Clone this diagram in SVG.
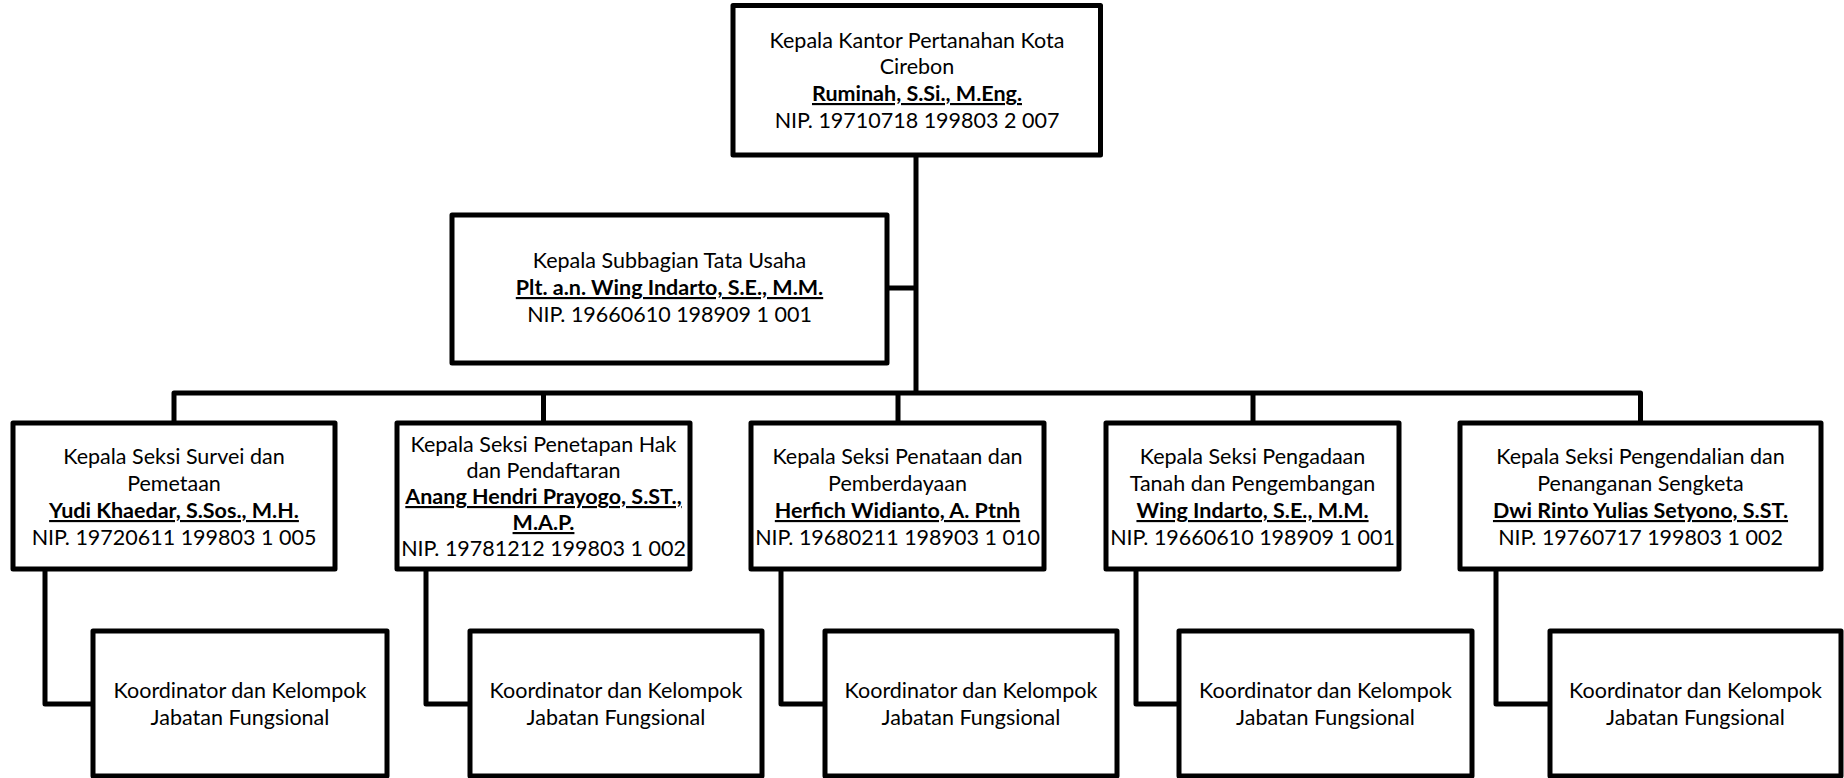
<svg xmlns="http://www.w3.org/2000/svg" width="1844" height="778" viewBox="0 0 1844 778">
<style>
.box{fill:#fff;stroke:#000;stroke-width:5;stroke-linejoin:round}
.con{fill:none;stroke:#000;stroke-width:5;stroke-linejoin:round}
text{font-family:Lato,"Open Sans","Liberation Sans",sans-serif;font-size:21.5px;fill:#000;text-anchor:middle}
.b{font-weight:bold;text-decoration:underline}
</style>
<rect width="1844" height="778" fill="#fff"/>
<g id="connectors">
<path class="con" d="M916 155V393M174 423V393H1640.5V423M543.5 393V423M898 393V423M1253 393V423M887 288H916"/>
<path class="con" d="M45 569V704H93M426 569V704H470M781 569V704H825M1136 569V704H1179M1496 569V704H1550"/>
</g>
<g id="kepala-kantor">
<rect class="box" x="733" y="5.5" width="367.5" height="149.5"/>
<text x="917" y="48">Kepala Kantor Pertanahan Kota</text>
<text x="917" y="74">Cirebon</text>
<text x="917" y="101" class="b">Ruminah, S.Si., M.Eng.</text>
<text x="917" y="128">NIP. 19710718 199803 2 007</text>
</g>
<g id="subbagian-tu">
<rect class="box" x="452" y="215" width="435" height="148"/>
<text x="669.5" y="268">Kepala Subbagian Tata Usaha</text>
<text x="669.5" y="295" class="b">Plt. a.n. Wing Indarto, S.E., M.M.</text>
<text x="669.5" y="322">NIP. 19660610 198909 1 001</text>
</g>
<g id="seksi-survei">
<rect class="box" x="13" y="423" width="322" height="146"/>
<text x="174" y="464">Kepala Seksi Survei dan</text>
<text x="174" y="491">Pemetaan</text>
<text x="174" y="518" class="b">Yudi Khaedar, S.Sos., M.H.</text>
<text x="174" y="545">NIP. 19720611 199803 1 005</text>
</g>
<g id="seksi-penetapan">
<rect class="box" x="397" y="423" width="293" height="146"/>
<text x="543.5" y="452">Kepala Seksi Penetapan Hak</text>
<text x="543.5" y="478">dan Pendaftaran</text>
<text x="543.5" y="504" class="b">Anang Hendri Prayogo, S.ST.,</text>
<text x="543.5" y="530" class="b">M.A.P.</text>
<text x="543.5" y="556">NIP. 19781212 199803 1 002</text>
</g>
<g id="seksi-penataan">
<rect class="box" x="751" y="423" width="293" height="146"/>
<text x="897.5" y="464">Kepala Seksi Penataan dan</text>
<text x="897.5" y="491">Pemberdayaan</text>
<text x="897.5" y="518" class="b">Herfich Widianto, A. Ptnh</text>
<text x="897.5" y="545">NIP. 19680211 198903 1 010</text>
</g>
<g id="seksi-pengadaan">
<rect class="box" x="1106" y="423" width="293" height="146"/>
<text x="1252.5" y="464">Kepala Seksi Pengadaan</text>
<text x="1252.5" y="491">Tanah dan Pengembangan</text>
<text x="1252.5" y="518" class="b">Wing Indarto, S.E., M.M.</text>
<text x="1252.5" y="545">NIP. 19660610 198909 1 001</text>
</g>
<g id="seksi-pengendalian">
<rect class="box" x="1460" y="423" width="361" height="146"/>
<text x="1640.5" y="464">Kepala Seksi Pengendalian dan</text>
<text x="1640.5" y="491">Penanganan Sengketa</text>
<text x="1640.5" y="518" class="b">Dwi Rinto Yulias Setyono, S.ST.</text>
<text x="1640.5" y="545">NIP. 19760717 199803 1 002</text>
</g>
<g id="jf-1">
<rect class="box" x="93" y="631" width="294" height="145"/>
<text x="240" y="698">Koordinator dan Kelompok</text>
<text x="240" y="725">Jabatan Fungsional</text>
</g>
<g id="jf-2">
<rect class="box" x="470" y="631" width="292" height="145"/>
<text x="616" y="698">Koordinator dan Kelompok</text>
<text x="616" y="725">Jabatan Fungsional</text>
</g>
<g id="jf-3">
<rect class="box" x="825" y="631" width="292" height="145"/>
<text x="971" y="698">Koordinator dan Kelompok</text>
<text x="971" y="725">Jabatan Fungsional</text>
</g>
<g id="jf-4">
<rect class="box" x="1179" y="631" width="293" height="145"/>
<text x="1325.5" y="698">Koordinator dan Kelompok</text>
<text x="1325.5" y="725">Jabatan Fungsional</text>
</g>
<g id="jf-5">
<rect class="box" x="1550" y="631" width="291" height="145"/>
<text x="1695.5" y="698">Koordinator dan Kelompok</text>
<text x="1695.5" y="725">Jabatan Fungsional</text>
</g>
</svg>
